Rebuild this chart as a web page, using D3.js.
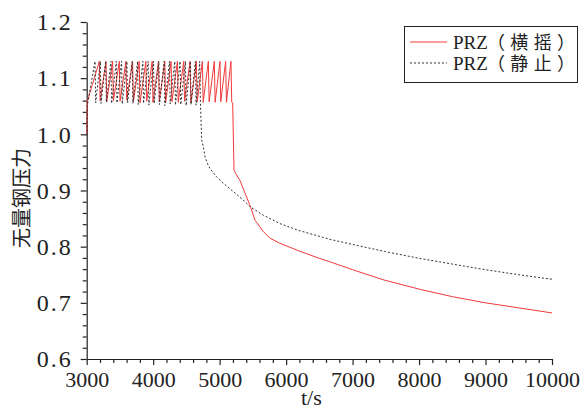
<!DOCTYPE html>
<html>
<head>
<meta charset="utf-8">
<script src="https://cdn.jsdelivr.net/npm/d3@7/dist/d3.min.js"></script>
<style>
  html, body { margin: 0; padding: 0; background: #fff; }
  svg { display: block; }
</style>
</head>
<body>
<svg id="chart" width="581" height="411"></svg>
<script>
// Axis ticks
const xTicks = [3000, 4000, 5000, 6000, 7000, 8000, 9000, 10000];
const yTicks = [0.6, 0.7, 0.8, 0.9, 1.0, 1.1, 1.2];

// Series labels
const seriesNames = ["PRZ（横摇）", "PRZ（静止）"];

// PRZ pressure under rolling motion: time (s) and dimensionless pressure
const rollT = [
  3000, 3008, 3190, 3202, 3290, 3302, 3390, 3402, 3490, 3502, 3590, 3602,
  3690, 3702, 3790, 3802, 3890, 3902, 3985, 3997, 4080, 4092, 4175, 4187,
  4270, 4282, 4365, 4377, 4460, 4472, 4555, 4567, 4650, 4662, 4740, 4752,
  4830, 4842, 4920, 4932, 5005, 5017, 5090, 5102, 5170, 5182, 5196, 5216,
  5257, 5306, 5352, 5407, 5467, 5532, 5657, 5758, 5908, 6159, 6480, 6660,
  7000, 7462, 8014, 8500, 9000, 9500, 10000
];
const rollV = [
  1.000, 1.058, 1.130, 1.060, 1.130, 1.058, 1.130, 1.060, 1.130, 1.059, 1.130, 1.061,
  1.130, 1.058, 1.130, 1.056, 1.130, 1.059, 1.130, 1.057, 1.130, 1.058, 1.130, 1.056,
  1.130, 1.058, 1.130, 1.057, 1.130, 1.059, 1.130, 1.056, 1.130, 1.058, 1.130, 1.057,
  1.130, 1.058, 1.130, 1.057, 1.130, 1.058, 1.130, 1.057, 1.130, 1.057, 1.056, 0.936,
  0.927, 0.918, 0.904, 0.888, 0.870, 0.847, 0.827, 0.815, 0.806, 0.794, 0.780, 0.773,
  0.759, 0.741, 0.724, 0.711, 0.700, 0.691, 0.682
];

// PRZ pressure at rest: time (s) and dimensionless pressure
const staticT = [
  3000, 3010, 3125, 3135, 3205, 3215, 3285, 3295, 3365, 3375, 3445, 3455,
  3525, 3535, 3605, 3615, 3685, 3695, 3765, 3775, 3845, 3855, 3925, 3935,
  4005, 4015, 4085, 4095, 4165, 4175, 4245, 4255, 4325, 4335, 4405, 4415,
  4485, 4495, 4560, 4570, 4635, 4645, 4700, 4712, 4730, 4754, 4780, 4805,
  4855, 4956, 5055, 5206, 5356, 5457, 5657, 5908, 6159, 6660, 7000, 7500,
  8014, 8500, 9000, 9500, 10000
];
const staticV = [
  0.998, 1.052, 1.130, 1.056, 1.130, 1.055, 1.130, 1.057, 1.130, 1.055, 1.130, 1.056,
  1.130, 1.054, 1.130, 1.056, 1.130, 1.055, 1.130, 1.053, 1.130, 1.055, 1.130, 1.052,
  1.130, 1.055, 1.130, 1.053, 1.130, 1.051, 1.130, 1.054, 1.130, 1.052, 1.130, 1.053,
  1.130, 1.051, 1.130, 1.053, 1.130, 1.052, 1.130, 1.052, 0.990, 0.978, 0.960, 0.951,
  0.939, 0.924, 0.913, 0.898, 0.883, 0.871, 0.856, 0.841, 0.830, 0.813, 0.804, 0.791,
  0.779, 0.769, 0.759, 0.750, 0.742
];

const svg = d3.select("#chart");
const plotLeft = 86.7, plotRight = 552, plotTop = 22, plotBottom = 359;

const x = d3.scaleLinear().domain([3000, 10000]).range([plotLeft, plotRight]);
const y = d3.scaleLinear().domain([0.6, 1.2]).range([plotBottom, plotTop]);

const numFont = "'Liberation Serif', 'Times New Roman', serif";
const cjkFont = "'Noto Sans CJK SC', sans-serif";
const axisColor = "#222";

// Minor ticks (every 200 s / 0.02)
const xMinor = d3.range(3000, 10001, 200).filter(v => v % 1000 !== 0);
const yMinor = d3.range(0, 31).map(i => 0.6 + i * 0.02).filter((v, i) => i % 5 !== 0);

// X axis
svg.append("g").attr("class", "xa").attr("transform", `translate(0,${plotBottom})`)
  .call(d3.axisBottom(x).tickValues(xTicks).tickFormat(d3.format("d"))
    .tickSizeInner(6).tickSizeOuter(0).tickPadding(6));
svg.append("g").attr("transform", `translate(0,${plotBottom})`)
  .call(d3.axisBottom(x).tickValues(xMinor).tickFormat("").tickSizeInner(4).tickSizeOuter(0))
  .call(g => g.select(".domain").remove());

// Y axis
svg.append("g").attr("class", "ya").attr("transform", `translate(${plotLeft},0)`)
  .call(d3.axisLeft(y).tickValues(yTicks).tickFormat(d3.format(".1f"))
    .tickSizeInner(6).tickSizeOuter(0).tickPadding(8));
svg.append("g").attr("transform", `translate(${plotLeft},0)`)
  .call(d3.axisLeft(y).tickValues(yMinor).tickFormat("").tickSizeInner(4).tickSizeOuter(0))
  .call(g => g.select(".domain").remove());

svg.selectAll(".domain, .tick line").attr("stroke", axisColor).attr("stroke-width", 1.2);
svg.selectAll(".tick text")
  .attr("font-family", numFont).attr("font-size", 22).attr("fill", "#222");
svg.selectAll(".ya .tick text").attr("font-size", 24).attr("letter-spacing", 2);

// Axis titles
svg.append("text")
  .attr("x", (plotLeft + plotRight) / 2 - 8).attr("y", 405)
  .attr("text-anchor", "middle")
  .attr("font-family", numFont).attr("font-size", 22).attr("fill", "#222")
  .text("t/s");

svg.append("text")
  .attr("transform", `translate(29,198) rotate(-90)`)
  .attr("text-anchor", "middle")
  .attr("font-family", cjkFont).attr("font-size", 20)
  .attr("fill", "#222")
  .text("无量钢压力");

// Lines
const line = d3.line().x(d => x(d[0])).y(d => y(d[1]));
const rollData = rollT.map((t, i) => [t, rollV[i]]);
const staticData = staticT.map((t, i) => [t, staticV[i]]);

svg.append("path").datum(rollData)
  .attr("d", line).attr("fill", "none")
  .attr("stroke", "#f23a3a").attr("stroke-width", 1);

svg.append("path").datum(staticData)
  .attr("d", line).attr("fill", "none")
  .attr("stroke", "#333").attr("stroke-width", 1)
  .attr("stroke-dasharray", "2,2");

// Legend
const lg = svg.append("g");
lg.append("rect").attr("x", 404.5).attr("y", 26.5).attr("width", 173).attr("height", 56)
  .attr("fill", "#fff").attr("stroke", axisColor).attr("stroke-width", 1);
const styles = [
  { stroke: "#f23a3a", dash: null },
  { stroke: "#333", dash: "2,2" }
];
seriesNames.forEach((name, i) => {
  const cy = 42 + i * 21;
  lg.append("line").attr("x1", 410).attr("x2", 447).attr("y1", cy).attr("y2", cy)
    .attr("stroke", styles[i].stroke).attr("stroke-width", 1)
    .attr("stroke-dasharray", styles[i].dash);
  lg.append("text").attr("x", 453).attr("y", cy + 7)
    .attr("font-family", numFont).attr("font-size", 19).attr("fill", "#222")
    .text(name.slice(0, 3));
  lg.append("text").attr("x", 487).attr("y", cy + 7)
    .attr("font-family", cjkFont).attr("font-size", 18).attr("fill", "#222")
    .attr("textLength", 88).attr("lengthAdjust", "spacing")
    .text(name.slice(3));
});
</script>
</body>
</html>
